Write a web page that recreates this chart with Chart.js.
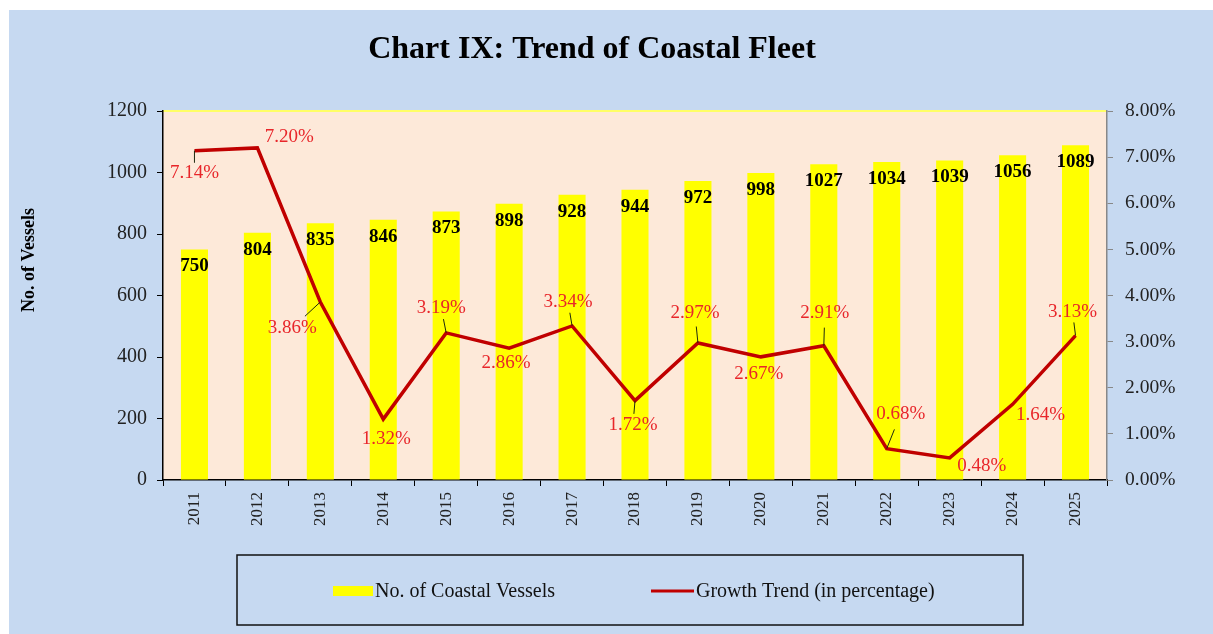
<!DOCTYPE html>
<html>
<head>
<meta charset="utf-8">
<script src="https://cdn.jsdelivr.net/npm/chart.js@4"></script>
<style>
  body { margin: 0; background: #fff; }
</style>
</head>
<body>
<canvas id="canvas" width="1213" height="634"></canvas>
<script>
const years = ['2011', '2012', '2013', '2014', '2015', '2016', '2017', '2018', '2019', '2020', '2021', '2022', '2023', '2024', '2025']
const vessels = [750, 804, 835, 846, 873, 898, 928, 944, 972, 998, 1027, 1034, 1039, 1056, 1089]
const growth = [7.14, 7.20, 3.86, 1.32, 3.19, 2.86, 3.34, 1.72, 2.97, 2.67, 2.91, 0.68, 0.48, 1.64, 3.13]

// where each % label sits relative to its point (px), and whether it gets a leader line
const labelOffsets = [[0, 22], [32, -11], [-28, 26], [3, 20], [-5, -25], [-3, 15], [-4, -24], [-2, 24], [-3, -30], [-2, 17], [1, -33], [14, -35], [32, 8], [28, 11], [-3, -24]]
const leaders = [1, 0, 1, 0, 1, 0, 1, 1, 1, 0, 1, 1, 0, 0, 1]

const serif = '"Liberation Serif", "Times New Roman", serif'

const chartStyle = {
    id: 'chartStyle',
    beforeDraw(chart) {
        const ctx = chart.ctx
        const a = chart.chartArea
        ctx.save()
        ctx.fillStyle = '#ffffff'
        ctx.fillRect(0, 0, chart.width, chart.height)
        ctx.fillStyle = '#c6d9f1'
        ctx.fillRect(9, 10, chart.width - 9, chart.height - 10)
        ctx.fillStyle = '#fde9d9'
        ctx.fillRect(a.left, a.top, a.right - a.left, a.bottom - a.top)
        ctx.strokeStyle = '#ffff66'
        ctx.lineWidth = 2
        ctx.beginPath()
        ctx.moveTo(a.left, a.top)
        ctx.lineTo(a.right, a.top)
        ctx.stroke()
        ctx.restore()
    },
    afterDatasetsDraw(chart) {
        const ctx = chart.ctx
        ctx.save()
        ctx.textAlign = 'center'
        ctx.textBaseline = 'middle'

        // bar values
        ctx.fillStyle = '#000'
        ctx.font = 'bold 19px ' + serif
        chart.getDatasetMeta(0).data.forEach((bar, i) => {
            ctx.fillText(String(vessels[i]), bar.x, bar.y + 17)
        })

        // growth labels
        ctx.font = '19px ' + serif
        chart.getDatasetMeta(1).data.forEach((pt, i) => {
            const lx = pt.x + labelOffsets[i][0]
            const ly = pt.y + labelOffsets[i][1]
            if (leaders[i]) {
                ctx.strokeStyle = '#1f2a10'
                ctx.lineWidth = 1
                ctx.beginPath()
                ctx.moveTo(pt.x, pt.y)
                ctx.lineTo(pt.x + (lx - pt.x) * 0.55, pt.y + (ly - pt.y) * 0.55)
                ctx.stroke()
            }
            ctx.fillStyle = '#e8262a'
            ctx.fillText(growth[i].toFixed(2) + '%', lx, ly)
        })
        ctx.restore()
    },
    afterDraw(chart) {
        const ctx = chart.ctx
        ctx.save()
        // title
        ctx.fillStyle = '#000'
        ctx.font = 'bold 32px ' + serif
        ctx.textAlign = 'center'
        ctx.textBaseline = 'middle'
        ctx.fillText('Chart IX: Trend of Coastal Fleet', 592, 50)

        // left axis title
        ctx.save()
        ctx.translate(29, 260)
        ctx.rotate(-Math.PI / 2)
        ctx.font = 'bold 18px ' + serif
        ctx.fillText('No. of Vessels', 0, 0)
        ctx.restore()

        // legend box
        ctx.strokeStyle = '#111'
        ctx.lineWidth = 1.5
        ctx.strokeRect(237, 555, 786, 70)
        ctx.font = '20px ' + serif
        ctx.textAlign = 'left'
        ctx.fillStyle = chart.data.datasets[0].backgroundColor
        ctx.fillRect(333, 586, 40, 10)
        ctx.fillStyle = '#111'
        ctx.fillText(chart.data.datasets[0].label, 375, 592)
        ctx.strokeStyle = chart.data.datasets[1].borderColor
        ctx.lineWidth = 3
        ctx.beginPath()
        ctx.moveTo(651, 591)
        ctx.lineTo(694, 591)
        ctx.stroke()
        ctx.fillText(chart.data.datasets[1].label, 696, 592)
        ctx.restore()
    }
}

const data = {
    labels: years,
    datasets: [
        {
            type: 'bar',
            label: 'No. of Coastal Vessels',
            data: vessels,
            backgroundColor: '#ffff00',
            barPercentage: 0.43,
            categoryPercentage: 1,
            yAxisID: 'y',
            order: 2,
        },
        {
            type: 'line',
            label: 'Growth Trend (in percentage)',
            data: growth,
            borderColor: '#c00000',
            borderWidth: 3.5,
            pointRadius: 0,
            tension: 0,
            yAxisID: 'y1',
            order: 1,
        }
    ]
}

const config = {
    type: 'bar',
    data: data,
    options: {
        responsive: false,
        animation: false,
        layout: { padding: { left: 9, top: 111, right: 0, bottom: 0 } },
        plugins: {
            legend: { display: false },
            title: { display: false },
            tooltip: { enabled: false },
        },
        scales: {
            x: {
                offset: true,
                grid: { display: true, drawOnChartArea: false, tickLength: 6, color: '#000', offset: true },
                border: { display: true, color: '#000', width: 1.5 },
                ticks: {
                    maxRotation: 90, minRotation: 90, padding: 6,
                    color: '#222', font: { family: serif, size: 17 },
                },
                afterFit(scale) { scale.height = 154 },
            },
            y: {
                position: 'left',
                min: 0, max: 1200,
                grid: { drawOnChartArea: false, tickLength: 6, color: '#000' },
                border: { display: true, color: '#000', width: 1.5 },
                ticks: {
                    stepSize: 200, padding: 10, color: '#222', font: { family: serif, size: 20 },
                    callback: v => String(v),
                },
                afterFit(scale) { scale.width = 154 },
            },
            y1: {
                position: 'right',
                min: 0, max: 8,
                grid: { drawOnChartArea: false, tickLength: 6, color: '#888' },
                border: { display: true, color: '#888', width: 1.5 },
                ticks: {
                    stepSize: 1, padding: 12, color: '#222', font: { family: serif, size: 19.5 },
                    callback: v => v.toFixed(2) + '%',
                },
                afterFit(scale) { scale.width = 106 },
            },
        },
    },
    plugins: [chartStyle],
}

const canvas = document.getElementById('canvas')
const chart = new Chart(canvas, config)
</script>
</body>
</html>
